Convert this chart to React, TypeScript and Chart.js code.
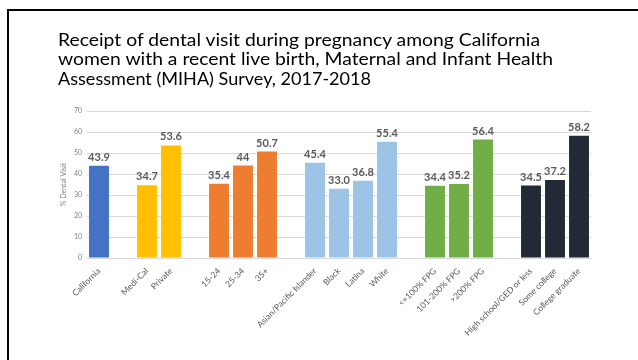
import React, { useEffect, useRef } from "react";
import { Chart, registerables } from "chart.js";

Chart.register(...registerables);

// Categories with blank slots separating the groups
const categories: string[] = [
  "California",
  "",
  "Medi-Cal",
  "Private",
  "",
  "15-24",
  "25-34",
  "35+",
  "",
  "Asian/Pacific Islander",
  "Black",
  "Latina",
  "White",
  "",
  "<=100% FPG",
  "101-200% FPG",
  ">200% FPG",
  "",
  "High school/GED or less",
  "Some college",
  "College graduate",
];

// Percent with a dental visit, as printed above each bar ("" = gap slot)
const valueLabels: string[] = [
  "43.9",
  "",
  "34.7",
  "53.6",
  "",
  "35.4",
  "44",
  "50.7",
  "",
  "45.4",
  "33.0",
  "36.8",
  "55.4",
  "",
  "34.4",
  "35.2",
  "56.4",
  "",
  "34.5",
  "37.2",
  "58.2",
];

const barColors: string[] = [
  "#4472C4",
  "#ffffff",
  "#FFC000",
  "#FFC000",
  "#ffffff",
  "#ED7D31",
  "#ED7D31",
  "#ED7D31",
  "#ffffff",
  "#9DC3E6",
  "#9DC3E6",
  "#9DC3E6",
  "#9DC3E6",
  "#ffffff",
  "#70AD47",
  "#70AD47",
  "#70AD47",
  "#ffffff",
  "#222A35",
  "#222A35",
  "#222A35",
];

const yTicks: number[] = [0, 10, 20, 30, 40, 50, 60, 70];

const titleLines: string[] = [
  "Receipt of dental visit during pregnancy among California",
  "women with a recent live birth, Maternal and Infant Health",
  "Assessment (MIHA) Survey, 2017-2018",
];

const values: (number | null)[] = valueLabels.map((s) => (s === "" ? null : Number(s)));

const FONT = "Lato, 'Open Sans', sans-serif";

const valueLabelPlugin = {
  id: "valueLabels",
  afterDatasetsDraw(chart: any) {
    const ctx = chart.ctx;
    const meta = chart.getDatasetMeta(0);
    ctx.save();
    ctx.font = `bold 11px ${FONT}`;
    ctx.fillStyle = "#595959";
    ctx.textAlign = "center";
    ctx.textBaseline = "alphabetic";
    meta.data.forEach((bar: any, i: number) => {
      if (values[i] === null) return;
      ctx.fillText(valueLabels[i], bar.x, bar.y - 5);
    });
    ctx.restore();
  },
};

export default function App() {
  const canvasRef = useRef<HTMLCanvasElement | null>(null);

  useEffect(() => {
    document.body.style.margin = "0";
    const canvas = canvasRef.current;
    if (!canvas) return;
    const chart = new Chart(canvas, {
      type: "bar",
      data: {
        labels: categories,
        datasets: [
          {
            data: values,
            backgroundColor: barColors,
            borderWidth: 0,
            categoryPercentage: 1,
            barPercentage: 0.83,
          },
        ],
      },
      options: {
        animation: false,
        responsive: false,
        maintainAspectRatio: false,
        layout: { padding: { left: 60, top: 111, right: 47, bottom: 0 } },
        plugins: {
          legend: { display: false },
          tooltip: { enabled: false },
        },
        scales: {
          x: {
            grid: { display: false, drawTicks: false },
            border: { color: "#d9d9d9", width: 1 },
            ticks: {
              autoSkip: false,
              minRotation: 45,
              maxRotation: 45,
              padding: 8,
              color: "#595959",
              font: { family: FONT, size: 8.5 },
            },
            afterFit: (scale: any) => {
              scale.height = 102;
            },
          },
          y: {
            min: 0,
            max: 70,
            afterBuildTicks: (scale: any) => {
              scale.ticks = yTicks.map((v) => ({ value: v }));
            },
            grid: { color: "#d9d9d9", drawTicks: false },
            border: { display: false },
            ticks: {
              padding: 5,
              color: "#7f7f7f",
              font: { family: FONT, size: 7 },
            },
            title: {
              display: true,
              text: "% Dental Visit",
              color: "#7f7f7f",
              font: { family: FONT, size: 7 },
              padding: 0,
            },
            afterFit: (scale: any) => {
              scale.width = 27;
            },
          },
        },
      },
      plugins: [valueLabelPlugin],
    });
    return () => chart.destroy();
  }, []);

  const baselines = [46, 65, 85];
  const widths = [482, 495, 313];

  return (
    <div
      style={{
        position: "fixed",
        left: 0,
        top: 0,
        width: 638,
        height: 360,
        background: "#ffffff",
        overflow: "hidden",
      }}
    >
      <div
        style={{
          position: "absolute",
          left: 7,
          top: 9,
          width: 700,
          height: 400,
          borderLeft: "2px solid #000",
          borderTop: "2px solid #000",
        }}
      />
      <canvas
        ref={canvasRef}
        width={638}
        height={360}
        style={{ position: "absolute", left: 0, top: 0, width: 638, height: 360 }}
      />
      <svg
        width={638}
        height={100}
        style={{ position: "absolute", left: 0, top: 0 }}
      >
        {titleLines.map((line, i) => (
          <text
            key={i}
            x={58}
            y={baselines[i]}
            fontFamily={FONT}
            fontSize={17}
            fill="#000"
            textLength={widths[i]}
            lengthAdjust="spacingAndGlyphs"
          >
            {line}
          </text>
        ))}
      </svg>
    </div>
  );
}
